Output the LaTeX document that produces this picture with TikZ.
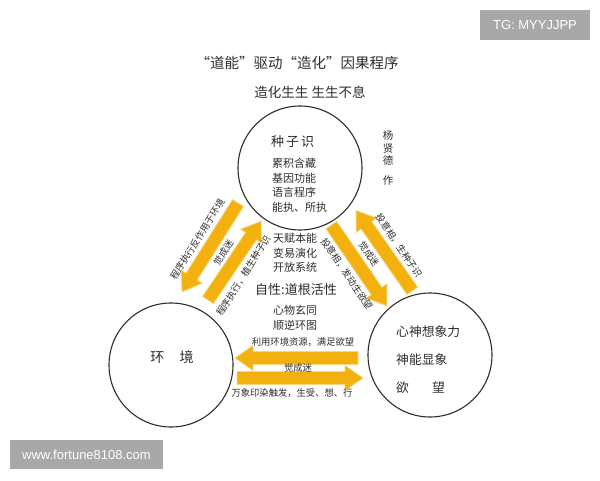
\documentclass[tikz,border=0pt]{standalone}
\usepackage{fontspec}
\setmainfont{Noto Sans CJK SC}
\newfontfamily\wmfont{Liberation Sans}
\usetikzlibrary{calc}
\definecolor{arrfill}{HTML}{F2B10E}
\definecolor{arredge}{HTML}{F8D77A}
\definecolor{ink}{HTML}{2E2E2E}
\definecolor{wmgray}{HTML}{A8A8A8}
\newcommand\fsz[2]{\fontsize{#1}{#2}\selectfont}
\newcommand\yarr[4]{%
  \begin{scope}[shift={(#1,#2)},rotate=#3]
    \draw[yarrow] (0,-6.5) -- ({#4-18},-6.5) -- ({#4-18},-12.5) -- (#4,0)
      -- ({#4-18},12.5) -- ({#4-18},6.5) -- (0,6.5) -- cycle;
  \end{scope}}
\tikzset{
  circ/.style={draw=ink, line width=1.1pt, circle, minimum size=124pt, inner sep=0pt},
  yarrow/.style={fill=arrfill, draw=arredge, line width=0.8pt},
  lab/.style={text=ink, font=\fsz{9.3}{11}, inner sep=0pt},
  body/.style={text=ink, font=\fsz{11}{13}, inner sep=0pt, anchor=west},
  wm/.style={fill=wmgray, text=white, inner sep=0pt, font=\wmfont\fsz{13}{15}},
}
\begin{document}
\begin{tikzpicture}[x=1pt,y=1pt]
\useasboundingbox (0,0) rectangle (600,480);
\fill[white] (0,0) rectangle (600,480);

% title
\node[text=ink, font=\fsz{14.5}{16}, inner sep=0pt] (title) at (297,417) {“道能”驱动“造化”因果程序};
\node[text=ink, font=\fsz{13.5}{15}, inner sep=0pt] (sub) at (310,388) {造化生生\ 生生不息};

% circles
\node[circ] (top) at (300,312) {};
\node[circ] (env) at (171,115) {};
\node[circ] (mind) at (430,125) {};

% top circle text
\node[body, font=\fsz{13}{15}\addfontfeatures{LetterSpace=15}] (seed) at (271,338) {种子识};
\node[body] (t1) at (272,317) {累积含藏};
\node[body] (t2) at (272,302) {基因功能};
\node[body] (t3) at (272,288) {语言程序};
\node[body] (t4) at (272,273) {能执、所执};

% author
\node[text=ink, font=\fsz{10.5}{12.5}, align=center, inner sep=0pt] (auth) at (388,322) {杨\\贤\\德\\[7pt]作};

% center text
\node[body] (c1) at (273,242) {天赋本能};
\node[body] (c2) at (273,227) {变易演化};
\node[body] (c3) at (273,213) {开放系统};
\node[text=ink, font=\fsz{13}{15}, inner sep=0pt] (c4) at (296,190) {自性:道根活性};
\node[text=ink, font=\fsz{11}{13}, inner sep=0pt] (c5) at (295,170) {心物玄同};
\node[text=ink, font=\fsz{11}{13}, inner sep=0pt] (c6) at (295,155) {顺逆环图};

% right circle text
\node[body, font=\fsz{12.8}{14}] (m1) at (396,148) {心神想象力};
\node[body, font=\fsz{12.8}{14}] (m2) at (396,120) {神能显象};
\node[body, font=\fsz{12.8}{14}] (m3) at (396,92) {欲\hspace{1.8em}望};

% left circle text
\node[text=ink, font=\fsz{14}{16}, inner sep=0pt] (e1) at (172,123) {环\hspace{1.1em}境};

% arrows
\yarr{238}{277}{237.8}{105}
\yarr{208}{180}{56}{95}
\yarr{412.3}{189.2}{125}{98}
\yarr{331.3}{254.9}{-55.5}{98}
\yarr{358}{122}{180}{123}
\yarr{237}{102}{0}{126}

% arrow labels
\node[lab, rotate=57.8] (l1) at (197.3,240.5) {程序执行反作用于环境};
\node[lab, rotate=57.8] (l2) at (223.4,227.6) {觉成迷};
\node[lab, rotate=57.8] (l3) at (243.4,204.3) {程序执行，植生种子识};
\node[lab, rotate=-56] (r1) at (398.8,234.4) {投意相，生种子识};
\node[lab, rotate=-56] (r2) at (368.9,226) {觉成迷};
\node[lab, rotate=-56] (r3) at (346.7,206.2) {投意相，发动生欲望};
\node[lab] (b1) at (303,138) {利用环境资源，满足欲望};
\node[lab] (b2) at (298,112) {觉成迷};
\node[lab] (b3) at (292,87) {万象印染触发，生受、想、行};

% watermarks
\node[wm, minimum width=110pt, minimum height=30pt] (wm1) at (535,455) {TG: MYYJJPP};
\node[wm, minimum width=153pt, minimum height=29pt] (wm2) at (86.5,25.5) {www.fortune8108.com};
\end{tikzpicture}
\end{document}
